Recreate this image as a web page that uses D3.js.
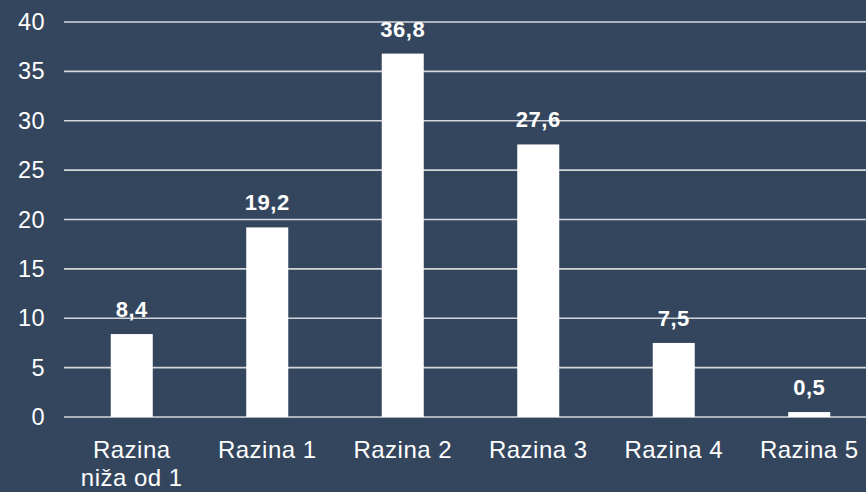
<!DOCTYPE html>
<html>
<head>
<meta charset="utf-8">
<script src="https://cdn.jsdelivr.net/npm/d3@7"></script>
<style>
  html, body { margin: 0; padding: 0; background: #34465d; }
  svg { display: block; }
  text { font-family: "Liberation Sans", Arial, sans-serif; fill: #ffffff; }
</style>
</head>
<body>
<svg id="chart" width="866" height="492"></svg>
<script>
const categories = ["Razina niža od 1", "Razina 1", "Razina 2", "Razina 3", "Razina 4", "Razina 5"];
const values = [8.4, 19.2, 36.8, 27.6, 7.5, 0.5];
const valueLabels = ["8,4", "19,2", "36,8", "27,6", "7,5", "0,5"];
const yTicks = [0, 5, 10, 15, 20, 25, 30, 35, 40];

const W = 866, H = 492;
const svg = d3.select("#chart");
svg.append("rect").attr("width", W).attr("height", H).attr("fill", "#34465d");

const margin = { left: 64, top: 22, bottom: 75 };
const x = d3.scaleBand().domain(categories).range([64, 877]).paddingInner(0.69).paddingOuter(0.345);
const y = d3.scaleLinear().domain([0, 40]).range([417, 22]);

// gridlines
const grid = svg.append("g");
grid.selectAll("line").data(yTicks).join("line")
  .attr("x1", 64).attr("x2", W)
  .attr("y1", d => y(d)).attr("y2", d => y(d))
  .attr("stroke", "#d4d6da").attr("stroke-width", 1.6);

// y axis labels
const yAxis = d3.axisLeft(y).tickValues(yTicks).tickSize(0).tickPadding(0).tickFormat(d3.format("d"));
const ya = svg.append("g").attr("transform", "translate(45,0)").call(yAxis);
ya.select(".domain").remove();
ya.selectAll("text").attr("font-size", 23.5).attr("fill", "#fff")
  .attr("font-family", "Liberation Sans, Arial, sans-serif").attr("letter-spacing", 0.4);

// bars
svg.append("g").selectAll("rect").data(values).join("rect")
  .attr("x", (d, i) => x(categories[i]))
  .attr("width", x.bandwidth())
  .attr("y", d => y(d))
  .attr("height", d => y(0) - y(d))
  .attr("fill", "#ffffff");

// value labels
svg.append("g").selectAll("text").data(values).join("text")
  .attr("x", (d, i) => x(categories[i]) + x.bandwidth() / 2)
  .attr("y", d => y(d) - 17)
  .attr("text-anchor", "middle")
  .attr("font-size", 22)
  .attr("font-weight", "bold")
  .attr("letter-spacing", 0.5)
  .text((d, i) => valueLabels[i]);

// x axis labels with wrapping
const xAxis = d3.axisBottom(x).tickSize(0).tickPadding(0);
const xa = svg.append("g").attr("transform", `translate(0,${y(0)})`).call(xAxis);
xa.select(".domain").remove();
xa.selectAll("text")
  .attr("font-size", 24).attr("fill", "#fff").attr("letter-spacing", 0.5)
  .attr("font-family", "Liberation Sans, Arial, sans-serif")
  .attr("dy", null).attr("y", 41)
  .each(function(d) {
    const t = d3.select(this);
    const words = d.split(" ");
    t.text(null);
    const maxW = 115;
    let line = [];
    let lines = [];
    let tspan = t.append("tspan").attr("x", 0);
    words.forEach(w => {
      line.push(w);
      tspan.text(line.join(" "));
      if (tspan.node().getComputedTextLength() > maxW && line.length > 1) {
        line.pop();
        tspan.text(line.join(" "));
        lines.push(tspan);
        line = [w];
        tspan = t.append("tspan").attr("x", 0).attr("dy", 27.5).text(w);
      }
    });
  });
</script>
</body>
</html>
